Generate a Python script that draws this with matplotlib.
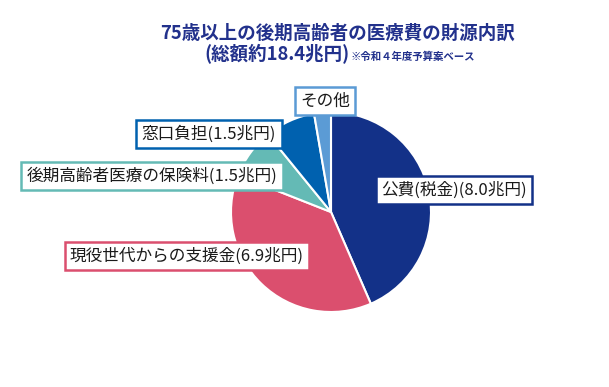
import matplotlib
matplotlib.use("Agg")
import matplotlib.pyplot as plt

plt.rcParams['font.family'] = ['Noto Sans CJK JP', 'DejaVu Sans']

categories = ["公費(税金)", "現役世代からの支援金", "後期高齢者医療の保険料", "窓口負担", "その他"]
values = [8.0, 6.9, 1.5, 1.5, 0.5]
label_texts = ["公費(税金)(8.0兆円)", "現役世代からの支援金(6.9兆円)",
               "後期高齢者医療の保険料(1.5兆円)", "窓口負担(1.5兆円)", "その他"]
colors = ["#133188", "#DB4F6E", "#64BAB5", "#0061AF", "#5B9BD5"]

W, H = 609, 387
fig = plt.figure(figsize=(W / 100, H / 100), dpi=100)
fig.patch.set_facecolor("white")

cx, cy, r = 331, 212, 100
ax = fig.add_axes([(cx - r) / W, (H - cy - r) / H, 2 * r / W, 2 * r / H])
ax.pie(values, colors=colors, startangle=90, counterclock=False,
       wedgeprops=dict(edgecolor="white", linewidth=1.5), radius=1)
ax.set_xlim(-1, 1)
ax.set_ylim(-1, 1)
ax.axis("off")

# label boxes (centers in pixels)
label_pos = [(454, 190), (187, 256), (152, 176), (209, 134), (325, 101)]
for txt, (px, py), col in zip(label_texts, label_pos, colors):
    fig.text(px / W, 1 - py / H, txt, ha="center", va="center", fontsize=12,
             color="#1a1a1a",
             bbox=dict(boxstyle="square,pad=0.32", facecolor="white",
                       edgecolor=col, linewidth=1.8))

title_color = "#22318C"
fig.text(337.5 / W, 1 - 33 / H, "75歳以上の後期高齢者の医療費の財源内訳", ha="center",
         va="center", fontsize=13.3, fontweight="bold", color=title_color)
fig.text(350 / W, 1 - 54 / H, "(総額約18.4兆円)", ha="right", va="center",
         fontsize=13.3, fontweight="bold", color=title_color)
fig.text(351 / W, 1 - 57 / H, "※令和４年度予算案ベース", ha="left", va="center",
         fontsize=7.5, fontweight="bold", color=title_color)

fig.savefig("out.png", dpi=100, facecolor="white")
